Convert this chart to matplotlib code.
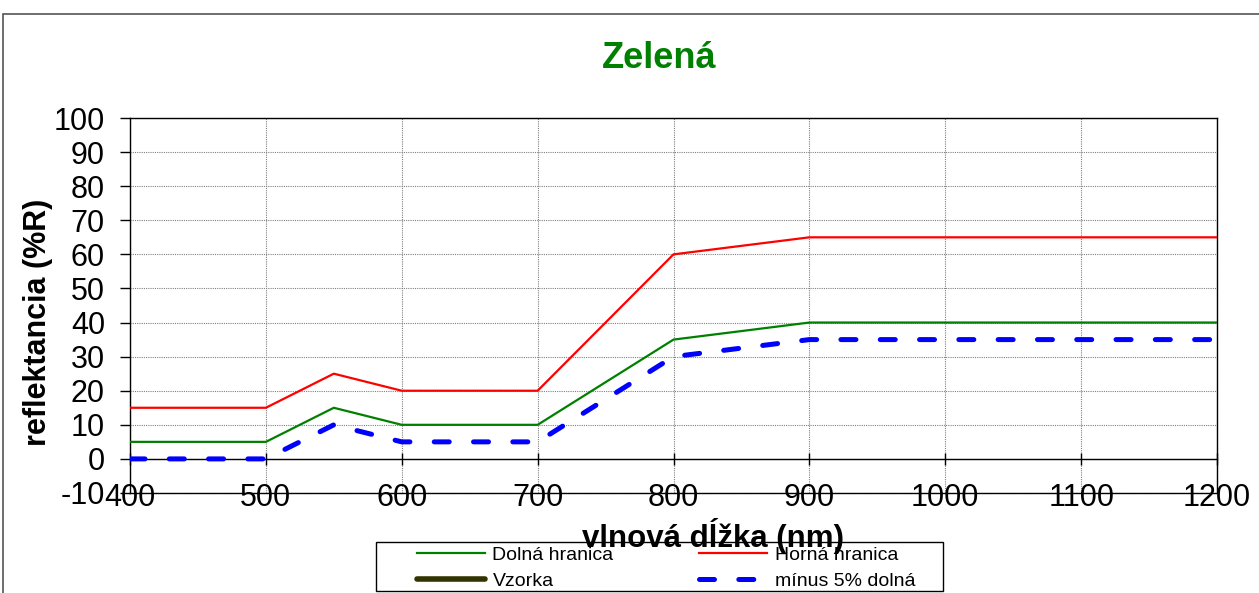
import matplotlib
matplotlib.use("Agg")
import matplotlib.pyplot as plt
from matplotlib.patches import Rectangle

plt.rcParams['font.family'] = ['Liberation Sans', 'DejaVu Sans']
plt.rcParams['axes.unicode_minus'] = False

wavelength = [400, 500, 550, 600, 700, 800, 900, 1000, 1100, 1200]
dolna = [5, 5, 15, 10, 10, 35, 40, 40, 40, 40]
horna = [15, 15, 25, 20, 20, 60, 65, 65, 65, 65]
minus5 = [0, 0, 10, 5, 5, 30, 35, 35, 35, 35]
vzorka_x = []
vzorka_y = []
x_ticks = [400, 500, 600, 700, 800, 900, 1000, 1100, 1200]
y_ticks = [-10, 0, 10, 20, 30, 40, 50, 60, 70, 80, 90, 100]

W, H = 1259, 593
fig = plt.figure(figsize=(W / 100, H / 100), dpi=100)
ax = fig.add_axes([130 / W, 1 - 493 / H, (1217 - 130) / W, (493 - 118) / H])

# outer chart border
fig.patches.append(Rectangle((3 / W, -0.1), 1.2, 1 - 14 / H + 0.1, transform=fig.transFigure,
                             fill=False, edgecolor='#555555', linewidth=1.2))

ax.set_xlim(400, 1200)
ax.set_ylim(-10, 100)
ax.set_xticks(x_ticks)
ax.set_yticks(y_ticks)

ax.grid(True, color='#808080', linestyle=(0, (1, 1)), linewidth=0.8)
ax.set_axisbelow(True)

l_d, = ax.plot(wavelength, dolna, color='#008000', lw=1.6, label='Dolná hranica', zorder=3)
l_h, = ax.plot(wavelength, horna, color='#ff0000', lw=1.6, label='Horná hranica', zorder=3)
l_v, = ax.plot(vzorka_x, vzorka_y, color='#333300', lw=4, label='Vzorka', solid_capstyle='round')
l_m, = ax.plot(wavelength, minus5, color='#0000ff', lw=3.6, dashes=(3.0, 4.86), dash_capstyle='round',
               label='mínus 5% dolná', zorder=4)

# frame
for s in ['top', 'right', 'left']:
    ax.spines[s].set_color('black')
    ax.spines[s].set_linewidth(1.0)
ax.spines['bottom'].set_position(('data', 0))
ax.spines['bottom'].set_linewidth(1.0)
ax.axhline(-10, color='black', lw=1.0, clip_on=False, zorder=5)

ax.tick_params(axis='x', direction='inout', length=9, width=1, labelsize=22, pad=13)
ax.tick_params(axis='y', direction='out', length=7, width=1, labelsize=22, pad=11)

fig.text(659 / W, 1 - 58 / H, 'Zelená', color='#008000', fontsize=26, fontweight='bold',
         ha='center', va='center')

fig.text(713 / W, 1 - 547 / H, 'vlnová dĺžka (nm)', fontsize=22.5, fontweight='bold',
         ha='center', va='baseline', zorder=11)
fig.text(38 / W, 1 - 322 / H, 'reflektancia (%R)', fontsize=22, fontweight='bold',
         ha='center', va='center', rotation=90)

# legend frame
fig.patches.append(Rectangle((376 / W, 1 - 591 / H), (943 - 376) / W, (591 - 542) / H,
                             transform=fig.transFigure, facecolor='white', edgecolor='black',
                             linewidth=1.0, zorder=9))
leg = fig.legend([l_d, l_v, l_h, l_m], ['Dolná hranica', 'Vzorka', 'Horná hranica', 'mínus 5% dolná'],
                 loc='center', bbox_to_anchor=(666 / W, 1 - 568 / H), ncol=2,
                 fontsize=14, frameon=False,
                 handlelength=3.5, columnspacing=4.4, borderpad=0.0, labelspacing=0.46,
                 handletextpad=0.4)
leg.set_zorder(10)

fig.savefig('out.png', dpi=100)
